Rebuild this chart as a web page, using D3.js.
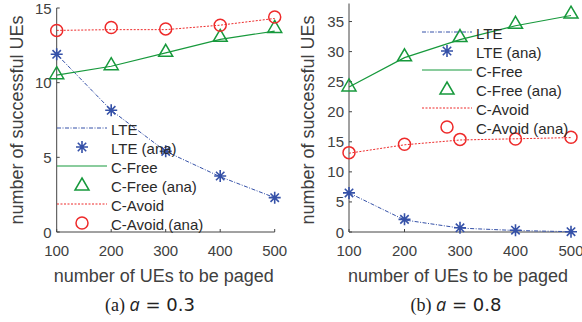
<!DOCTYPE html>
<html>
<head>
<meta charset="utf-8">
<script src="https://cdn.jsdelivr.net/npm/d3@7"></script>
<style>
body { margin: 0; background: #fff; }
svg text { font-family: "Liberation Sans", Arial, sans-serif; }
</style>
</head>
<body>
<div id="canvas"></div>
<script>
// shared x values
let paged = [100, 200, 300, 400, 500];
let xticks = [100, 200, 300, 400, 500];

// (a) a = 0.3
let lteA = [11.9, 8.15, 5.4, 3.7, 2.3],
lteAnaA = [11.9, 8.15, 5.4, 3.75, 2.3],
freeA = [10.5, 11.1, 12.0, 12.9, 13.45],
freeAnaA = [10.6, 11.2, 12.1, 13.1, 13.7],
avoidA = [13.5, 13.55, 13.55, 13.85, 14.3],
avoidAnaA = [13.5, 13.7, 13.6, 13.85, 14.4],
yticksA = [0, 5, 10, 15];

// (b) a = 0.8
let lteB = [6.5, 2.0, 0.65, 0.25, 0.05],
lteAnaB = [6.5, 2.1, 0.7, 0.3, 0.05],
freeB = [24.1, 29.0, 32.0, 34.3, 36.0],
freeAnaB = [24.3, 29.3, 32.5, 34.7, 36.4],
avoidB = [13.1, 14.5, 15.3, 15.5, 15.7],
avoidAnaB = [13.2, 14.6, 15.4, 15.45, 15.75],
yticksB = [0, 5, 10, 15, 20, 25, 30, 35];

let legendNames = ['LTE', 'LTE (ana)', 'C-Free', 'C-Free (ana)', 'C-Avoid', 'C-Avoid (ana)'];

let blue = '#3551a8', green = '#17993c', red = '#ee2a2a', axisc = '#444';

let svg = d3.select('#canvas').append('svg').attr('width', 582).attr('height', 322);

function starPath(s){
	let d = s * 0.7;
	return `M${-s},0L${s},0M0,${-s}L0,${s}M${-d},${-d}L${d},${d}M${-d},${d}L${d},${-d}`;
}

function drawMarker(g, kind, x, y){
	if(kind == 'star'){
		g.append('path').attr('d', starPath(6)).attr('transform', `translate(${x},${y})`)
		.style('stroke', blue).style('stroke-width', 1.6).style('fill', 'none');
	}else if(kind == 'tri'){
		g.append('path').attr('d', 'M0,-7L7,5L-7,5Z').attr('transform', `translate(${x},${y})`)
		.style('stroke', green).style('stroke-width', 1.5).style('fill', 'none');
	}else{
		g.append('circle').attr('cx', x).attr('cy', y).attr('r', 6)
		.style('stroke', red).style('stroke-width', 1.5).style('fill', 'none');
	}
}

function drawPanel(p){
	let g = svg.append('g');
	let x = d3.scaleLinear().domain([100, 500]).range(p.xr),
	y = d3.scaleLinear().domain([0, p.ymax]).range([232, p.ytop]);

	// axes lines
	g.append('line').attr('x1', p.xr[0]).attr('x2', p.xr[0]).attr('y1', y(0)).attr('y2', p.ytop)
	.style('stroke', axisc).style('stroke-width', 1);
	g.append('line').attr('x1', p.xr[0]).attr('x2', p.xr[1]).attr('y1', y(0)).attr('y2', y(0))
	.style('stroke', axisc).style('stroke-width', 1);

	// ticks
	p.yticks.forEach(t=>{
		g.append('line').attr('x1', p.xr[0]).attr('x2', p.xr[0] + 3).attr('y1', y(t)).attr('y2', y(t))
		.style('stroke', axisc);
		g.append('text').text(t).attr('x', p.xr[0] - 5).attr('y', y(t))
		.attr('text-anchor', 'end').attr('dominant-baseline', 'central')
		.style('font-size', '15px').style('fill', '#404040');
	});
	xticks.forEach(t=>{
		g.append('line').attr('x1', x(t)).attr('x2', x(t)).attr('y1', y(0)).attr('y2', y(0) - 3)
		.style('stroke', axisc);
		g.append('text').text(t).attr('x', x(t)).attr('y', 256)
		.attr('text-anchor', 'middle')
		.style('font-size', '15px').style('fill', '#404040');
	});

	// axis labels
	g.append('text').text('number of UEs to be paged').attr('x', (p.xr[0] + p.xr[1]) / 2 - 2).attr('y', 282)
	.attr('text-anchor', 'middle').style('font-size', '18px').style('fill', '#404040');
	g.append('text').text('number of successful UEs')
	.attr('transform', `translate(${p.ylx},120) rotate(-90)`)
	.attr('text-anchor', 'middle').attr('dominant-baseline', 'central')
	.style('font-size', '18px').style('fill', '#404040');

	// lines
	let line = d3.line().x((d, i)=>x(paged[i])).y(d=>y(d));
	g.append('path').attr('d', line(p.lte)).style('fill', 'none').style('stroke', blue)
	.style('stroke-width', 1).style('stroke-dasharray', '4,1.5,1,1.5');
	g.append('path').attr('d', line(p.free)).style('fill', 'none').style('stroke', green)
	.style('stroke-width', 1.2);
	g.append('path').attr('d', line(p.avoid)).style('fill', 'none').style('stroke', red)
	.style('stroke-width', 1).style('stroke-dasharray', '2,1.5');

	// markers
	p.lteAna.forEach((d, i)=>drawMarker(g, 'star', x(paged[i]), y(d)));
	p.freeAna.forEach((d, i)=>drawMarker(g, 'tri', x(paged[i]), y(d)));
	p.avoidAna.forEach((d, i)=>drawMarker(g, 'circ', x(paged[i]), y(d)));

	// legend
	let lx = p.legend[0], ly = p.legend[1], step = 19;
	let styles = [
		{stroke: blue, dash: '4,1.5,1,1.5', w: 1},
		{marker: 'star'},
		{stroke: green, dash: null, w: 1.2},
		{marker: 'tri'},
		{stroke: red, dash: '2,1.5', w: 1},
		{marker: 'circ'}
	];
	legendNames.forEach((name, i)=>{
		let yy = ly + i * step, s = styles[i];
		if(s.marker){
			drawMarker(g, s.marker, lx + 25, yy);
		}else{
			g.append('line').attr('x1', lx).attr('x2', lx + 50).attr('y1', yy).attr('y2', yy)
			.style('stroke', s.stroke).style('stroke-width', s.w).style('stroke-dasharray', s.dash);
		}
		g.append('text').text(name).attr('x', lx + 54).attr('y', yy + 1)
		.attr('dominant-baseline', 'central').style('font-size', '15px').style('fill', '#2a2a2a');
	});

	// caption
	let cap = g.append('text').attr('x', p.capx).attr('y', 311).attr('text-anchor', 'middle')
	.style('font-size', '18px').style('fill', '#222');
	cap.append('tspan').text(p.cap[0] + ' ').style('font-family', '"Liberation Serif", serif');
	cap.append('tspan').text('a').style('font-family', '"Open Sans", sans-serif').style('font-style', 'italic');
	cap.append('tspan').text(' = ' + p.cap[1]).style('font-family', '"DejaVu Sans", sans-serif');
}

drawPanel({xr: [56.7, 274.7], ymax: 15, ytop: 8, yticks: yticksA, ylx: 17,
	lte: lteA, lteAna: lteAnaA, free: freeA, freeAna: freeAnaA, avoid: avoidA, avoidAna: avoidAnaA,
	legend: [57, 128], capx: 150, cap: ['(a)', '0.3']});
drawPanel({xr: [349, 571], ymax: 38, ytop: 3.5, yticks: yticksB, ylx: 308,
	lte: lteB, lteAna: lteAnaB, free: freeB, freeAna: freeAnaB, avoid: avoidB, avoidAna: avoidAnaB,
	legend: [422, 32], capx: 456, cap: ['(b)', '0.8']});
</script>
</body>
</html>
